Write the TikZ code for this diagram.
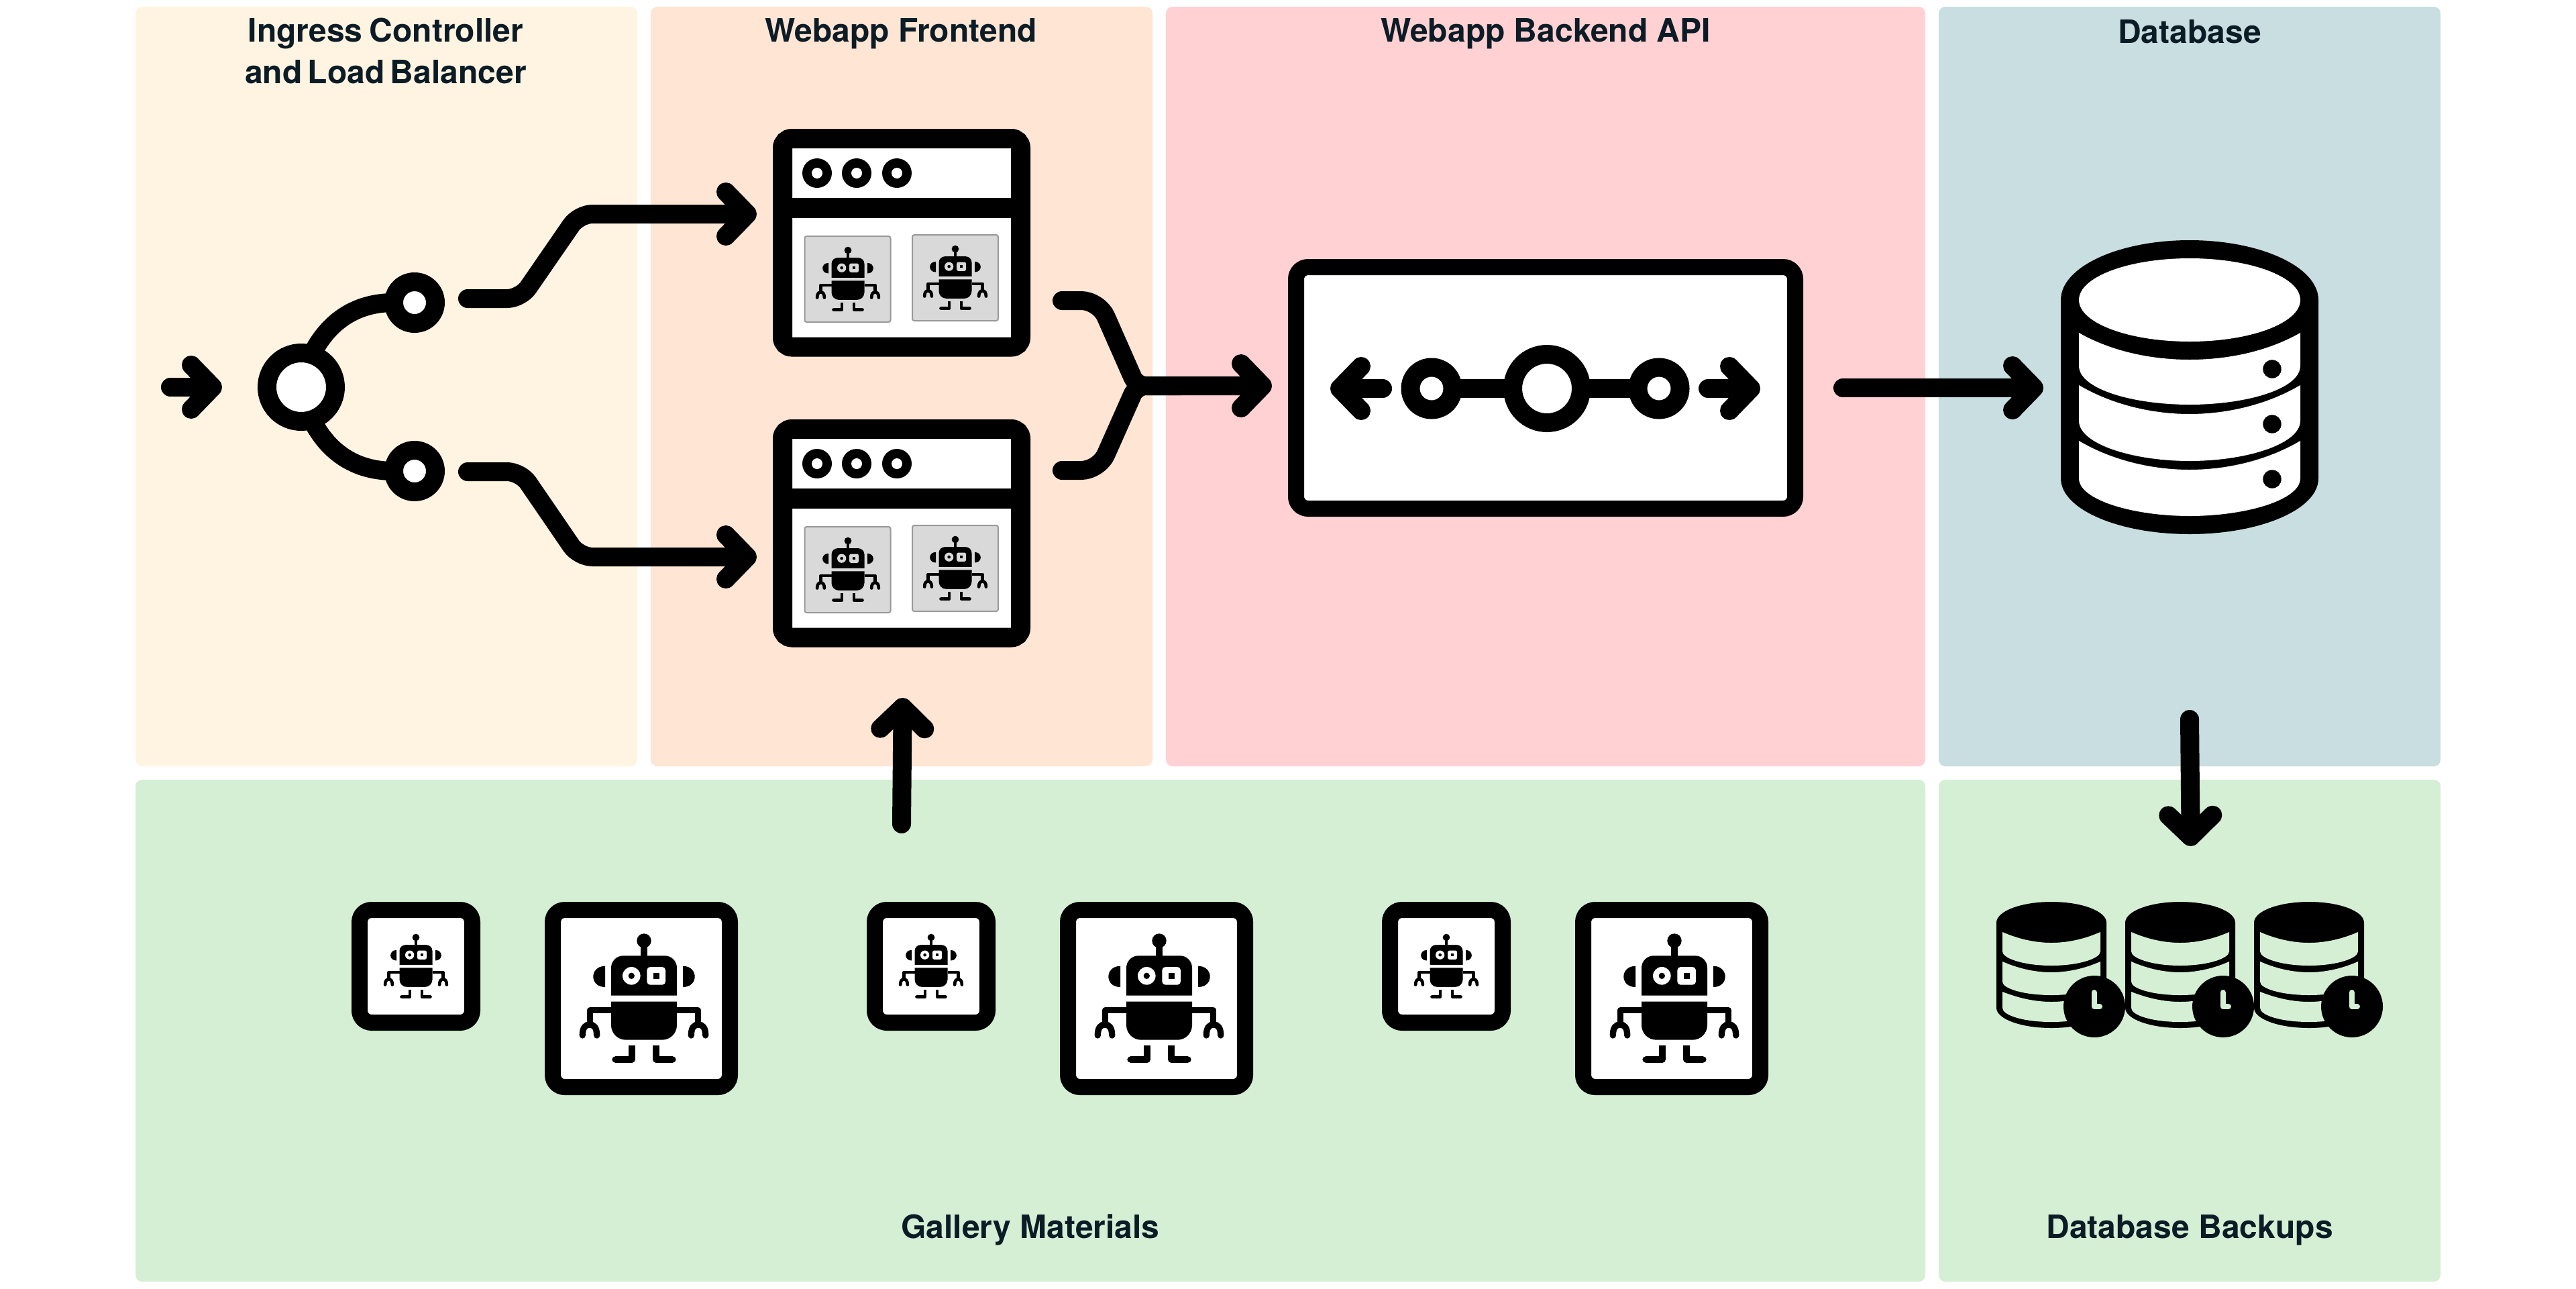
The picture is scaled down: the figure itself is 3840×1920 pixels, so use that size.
\documentclass[tikz,border=0pt]{standalone}
\usepackage{fontspec}
\setmainfont{TeX Gyre Heros}
\usetikzlibrary{arrows.meta}
\definecolor{pA}{HTML}{FFF4E1}
\definecolor{pB}{HTML}{FFE5D4}
\definecolor{pC}{HTML}{FFD1D3}
\definecolor{pD}{HTML}{C8DEE0}
\definecolor{pE}{HTML}{D5EFD5}
\definecolor{inkT}{HTML}{0C1C26}
\definecolor{thumbG}{HTML}{D9D9D9}
\definecolor{thumbB}{HTML}{999999}
\tikzset{
  panel/.style={anchor=north west,inner sep=0pt,outer sep=0pt,rounded corners=10pt},
  title/.style={font=\bfseries\fontsize{48}{62}\selectfont,text=inkT,align=center,inner sep=0pt,anchor=base},
  flow/.style={line width=28pt,line cap=round,line join=round,rounded corners=20pt,
    -{Straight Barb[round,length=32pt,width=66pt]}},
  stub/.style={line width=28pt,line cap=round,line join=round,rounded corners=20pt},
  ring/.style={circle,draw=black,fill=white,line width=28pt,inner sep=0pt,outer sep=0pt},
  link/.style={line width=28pt,line cap=butt},
  bigframe/.style={draw=black,fill=white,line width=24pt,rounded corners=18pt,inner sep=0pt,outer sep=0pt,minimum width=264pt,minimum height=264pt},
  smallframe/.style={draw=black,fill=white,line width=24pt,rounded corners=18pt,inner sep=0pt,outer sep=0pt,minimum width=168pt,minimum height=168pt},
  apibox/.style={draw=black,fill=white,line width=24pt,rounded corners=18pt,inner sep=0pt,outer sep=0pt,minimum width=744pt,minimum height=360pt},
  winbox/.style={draw=black,fill=white,line width=29pt,rounded corners=14pt,inner sep=0pt,outer sep=0pt,minimum width=355pt,minimum height=310.5pt},
  thumb/.style={draw=thumbB,fill=thumbG,line width=2pt,rounded corners=3pt,inner sep=0pt,outer sep=0pt,minimum width=128pt,minimum height=128pt},
}
% robot: #1 x, #2 y, #3 scale, #4 background colour
\newcommand{\robotfig}[4]{%
\begin{scope}[shift={(#1,#2)},scale=#3]
  \fill (0,-86) circle[radius=10.7];
  \fill (-4.7,-80) rectangle (4.7,-63);
  \fill (-49,-4.3) -- (-49,-45.7) arc[start angle=180,end angle=270,radius=18] -- (31,-63.7) arc[start angle=270,end angle=360,radius=18] -- (49,-4.3) -- cycle;
  \fill (-49,4.7) -- (-49,39.7) arc[start angle=180,end angle=90,radius=22] -- (27,61.7) arc[start angle=90,end angle=0,radius=22] -- (49,4.7) -- cycle;
  \fill (-58,-48.3) .. controls (-70,-48.3) and (-75.7,-40) .. (-75.7,-32.6) .. controls (-75.7,-25) and (-70,-17) .. (-58,-17) -- cycle;
  \fill (58,-48.3) .. controls (70,-48.3) and (75.7,-40) .. (75.7,-32.6) .. controls (75.7,-25) and (70,-17) .. (58,-17) -- cycle;
  \fill[#4] (-18.7,-33.7) circle[radius=13.3];
  \fill (-18.7,-33.7) circle[radius=4.7];
  \fill[#4,rounded corners=#3*5pt] (4.3,-47) rectangle (32,-20.3);
  \fill (14,-37.7) rectangle (22.7,-29.3);
  \draw[line width=#3*9.3pt,line join=round] (-49,17.7) -- (-80.7,17.7) -- (-80.7,38);
  \draw[line width=#3*9.3pt,line join=round] (49,17.7) -- (80.7,17.7) -- (80.7,38);
  \draw[line width=#3*9.3pt,line cap=round] (-91.7,55) .. controls (-91.7,43) and (-87,39) .. (-81,39) .. controls (-75,39) and (-70.3,43) .. (-70.3,55);
  \draw[line width=#3*9.3pt,line cap=round] (91.7,55) .. controls (91.7,43) and (87,39) .. (81,39) .. controls (75,39) and (70.3,43) .. (70.3,55);
  \draw[line width=#3*9.3pt,line join=round] (-18,70.3) -- (-18,91) -- (-43,91);
  \fill (-43,91) circle[radius=4.65];
  \draw[line width=#3*9.3pt,line join=round] (18,70.3) -- (18,91) -- (43,91);
  \fill (43,91) circle[radius=4.65];
\end{scope}}
% web window: #1 name, #2 vertical offset, #3,#4 y of thumbnails, #5,#6 y of robots
\newcommand{\webwin}[6]{%
  \node[winbox] (#1) at (1344,361.75+#2) {};
  \fill (1166,295+#2) rectangle (1522,325+#2);
  \foreach \dotx in {1218,1277,1337}{
    \fill (\dotx,258+#2) circle[radius=22];
    \fill[white] (\dotx,258+#2) circle[radius=8];}
  \node[thumb] (#1a) at (1263.5,#3) {};
  \node[thumb] (#1b) at (1424,#4) {};
  \robotfig{1264}{#5}{0.5}{thumbG}
  \robotfig{1424}{#6}{0.5}{thumbG}
}
% backup drum: #1 x offset
\newcommand{\backupdb}[1]{%
\begin{scope}[shift={(#1,0)}]
  \fill (2976,1375) arc[start angle=180,end angle=360,x radius=82,y radius=31] -- (3140,1502)
     arc[start angle=0,end angle=180,x radius=82,y radius=30] -- cycle;
  \fill[pE] (2985,1389) .. controls (3010,1400) and (3035,1405) .. (3058,1405) .. controls (3081,1405) and (3106,1400) .. (3131,1389)
     -- (3131,1418) .. controls (3131,1428) and (3100,1439) .. (3058,1439) .. controls (3016,1439) and (2985,1428) .. (2985,1418) -- cycle;
  \fill[pE] (2985,1433) .. controls (3010,1444) and (3035,1449) .. (3058,1449) .. controls (3081,1449) and (3106,1444) .. (3131,1433)
     -- (3131,1463) .. controls (3131,1473) and (3100,1483) .. (3058,1483) .. controls (3016,1483) and (2985,1473) .. (2985,1463) -- cycle;
  \fill[pE] (2985,1478) .. controls (3010,1488) and (3035,1493) .. (3058,1493) .. controls (3081,1493) and (3106,1488) .. (3131,1478)
     -- (3131,1502) .. controls (3131,1513) and (3100,1523) .. (3058,1523) .. controls (3016,1523) and (2985,1513) .. (2985,1502) -- cycle;
  \fill (3122,1500) circle[radius=46];
  \draw[pE,line width=8pt,line cap=round,line join=round] (3121.5,1479) -- (3121.5,1500) -- (3130,1500);
\end{scope}}
\begin{document}
\begin{tikzpicture}[x=1pt,y=-1pt]
\useasboundingbox (0,0) rectangle (3840,1920);
\fill[white] (0,0) rectangle (3840,1920);
% panels
\node[panel,fill=pA,minimum width=748pt,minimum height=1132pt] (lbpanel) at (202,10) {};
\node[panel,fill=pB,minimum width=748pt,minimum height=1132pt] (fepanel) at (970,10) {};
\node[panel,fill=pC,minimum width=1132pt,minimum height=1132pt] (apipanel) at (1738,10) {};
\node[panel,fill=pD,minimum width=748pt,minimum height=1132pt] (dbpanel) at (2890,10) {};
\node[panel,fill=pE,minimum width=2668pt,minimum height=748pt] (galpanel) at (202,1162) {};
\node[panel,fill=pE,minimum width=748pt,minimum height=748pt] (bakpanel) at (2890,1162) {};
% titles
\node[title] (t1) at (575,124) {Ingress\hspace{-3pt} Controller\\and\hspace{-5pt} Load\hspace{-5pt} Balancer};
\node[title] (t2) at (1343,62) {Webapp Frontend};
\node[title] (t3) at (2304,62) {Webapp Backend API};
\node[title] (t4) at (3264,64) {Database};
\node[title] (t5) at (1536,1845) {Gallery Materials};
\node[title] (t6) at (3264,1845) {Database Backups};
% load balancer icon
\node[ring,minimum size=102pt] (hub) at (449,577) {};
\node[ring,minimum size=62pt] (lbA) at (618,451) {};
\node[ring,minimum size=62pt] (lbB) at (618,702) {};
\draw[link] (hub.72) .. controls (484,490) and (520,451) .. (lbA.west);
\draw[link] (hub.-72) .. controls (484,664) and (520,702) .. (lbB.west);
% windows
\webwin{winA}{0}{416}{414}{416}{414}
\webwin{winB}{433}{849}{847}{849}{847}
% API box
\node[apibox] (api) at (2304,578) {};
\node[ring,minimum size=102pt] (apiC) at (2306,579) {};
\node[ring,minimum size=63pt] (apiL) at (2134,579) {};
\node[ring,minimum size=63pt] (apiR) at (2473,579) {};
\draw[link] (apiL.east) -- (apiC.west);
\draw[link] (apiC.east) -- (apiR.west);
% database
\begin{scope}
  \fill (3072,447) arc[start angle=180,end angle=360,x radius=192,y radius=89] -- (3456,713)
     arc[start angle=0,end angle=180,x radius=192,y radius=83] -- cycle;
  \fill[white] (3264,447) ellipse[x radius=165,y radius=62];
  \fill[white] (3099,496) .. controls (3150,525) and (3210,536) .. (3264,536) .. controls (3318,536) and (3378,525) .. (3429,496)
     -- (3429,545) .. controls (3429,580) and (3348,603) .. (3264,603) .. controls (3180,603) and (3099,580) .. (3099,545) -- cycle;
  \fill[white] (3099,574) .. controls (3150,604) and (3210,617) .. (3264,617) .. controls (3318,617) and (3378,604) .. (3429,574)
     -- (3429,627) .. controls (3429,662) and (3348,687) .. (3264,687) .. controls (3180,687) and (3099,662) .. (3099,627) -- cycle;
  \fill[white] (3099,657) .. controls (3150,687) and (3210,700) .. (3264,700) .. controls (3318,700) and (3378,687) .. (3429,657)
     -- (3429,713) .. controls (3429,745) and (3348,769) .. (3264,769) .. controls (3180,769) and (3099,745) .. (3099,713) -- cycle;
  \foreach \doty in {550,632,714} \fill (3387,\doty) circle[radius=13.7];
\end{scope}
% gallery frames
\foreach \fx/\fn in {0/a,768/b,1536/c}{
  \node[smallframe] (thumb\fn) at (620+\fx,1440) {};
  \robotfig{620+\fx}{1440}{0.5}{white}
  \node[bigframe] (full\fn) at (956+\fx,1488) {};
  \robotfig{960+\fx}{1488}{1}{white}
}
% backups
\backupdb{0}
\backupdb{192}
\backupdb{384}
% connector ends
\coordinate (inS) at (254,577);
\coordinate (inE) at (331,577);
\coordinate (lbAout) at (697,445);
\coordinate (lbBout) at (697,703);
\coordinate (toA) at (1128,319);
\coordinate (toB) at (1128,830);
\coordinate (feA) at (1583,448);
\coordinate (feB) at (1583,701);
\coordinate (merge) at (1694,575);
\coordinate (toApi) at (1896,575);
\coordinate (apiOut) at (2747,578);
\coordinate (toDb) at (3046,578);
\coordinate (dbOut) at (3264,1072);
\coordinate (toBak) at (3265.7,1261);
\coordinate (galOut) at (1344,1228);
\coordinate (toWin) at (1345.7,1040);
\coordinate (apiLs) at (2061,579);
\coordinate (apiLe) at (1983,579);
\coordinate (apiRs) at (2546,579);
\coordinate (apiRe) at (2624,579);
% connectors
\draw[flow] (inS) -- (inE);
\draw[flow] (lbAout) -- (776,445) -- (863,319) -- (toA);
\draw[flow] (lbBout) -- (776,703) -- (863,830) -- (toB);
\draw[stub,rounded corners=26pt] (feB) -- (1638,701) [rounded corners=14pt] -- (merge) -- (1760,575);
\draw[flow,rounded corners=26pt] (feA) -- (1638,448) [rounded corners=14pt] -- (merge) -- (toApi);
\draw[flow] (apiLs) -- (apiLe);
\draw[flow] (apiRs) -- (apiRe);
\draw[flow] (apiOut) -- (toDb);
\draw[flow] (dbOut) -- (toBak);
\draw[flow] (galOut) -- (toWin);
\end{tikzpicture}
\end{document}
